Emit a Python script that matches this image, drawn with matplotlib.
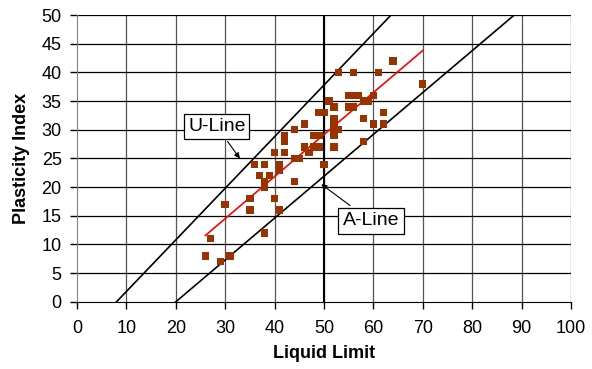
import numpy as np
import matplotlib.pyplot as plt

plt.rcParams['font.family'] = ['Liberation Sans', 'DejaVu Sans']

# datos
liquid_limit = [26, 27, 29, 31, 30, 35, 35, 38, 40, 41, 36, 38, 37, 39, 38, 38, 41, 41,
                44, 40, 42, 44, 45, 42, 42, 44, 46, 46, 47, 48, 49, 48, 49, 49, 50, 50,
                51, 52, 52, 52, 52, 52, 52, 53, 53, 56, 61, 64, 70, 55, 56, 57, 60, 55,
                56, 58, 59, 62, 58, 60, 62, 58]
plasticity_index = [8, 11, 7, 8, 17, 18, 16, 12, 18, 16, 24, 24, 22, 22, 21, 20, 24, 23,
                    21, 26, 26, 25, 25, 29, 28, 30, 31, 27, 26, 27, 27, 29, 29, 33, 33, 24,
                    35, 34, 32, 31, 30, 29, 27, 30, 40, 40, 40, 42, 38, 36, 36, 36, 36, 34,
                    34, 35, 35, 33, 32, 31, 31, 28]
x_ticks = [0, 10, 20, 30, 40, 50, 60, 70, 80, 90, 100]
y_ticks = [0, 5, 10, 15, 20, 25, 30, 35, 40, 45, 50]

fig = plt.figure(figsize=(5.92, 3.69), dpi=100)
ax = fig.add_axes([0.130, 0.182, 0.8345, 0.777])

# grade
for v in x_ticks[1:]:
    ax.axvline(v, color='#555555', lw=0.9, zorder=1)
for v in y_ticks[1:]:
    ax.axhline(v, color='black', lw=0.9, zorder=1)
ax.axvline(50, color='black', lw=1.5, zorder=2)

# linhas U e A
ll = np.array([0, 100])
ax.plot(ll, 0.9 * (ll - 8), color='black', lw=1.2, zorder=3)
ax.plot(ll, 0.73 * (ll - 20), color='black', lw=1.2, zorder=3)

# ajuste linear
coef = np.polyfit(liquid_limit, plasticity_index, 1)
fit_x = np.array([min(liquid_limit), max(liquid_limit)])
ax.plot(fit_x, np.polyval(coef, fit_x), color='red', lw=1.2, zorder=4)

ax.scatter(liquid_limit, plasticity_index, marker='s', s=28, color='#993300',
           edgecolors='none', zorder=5)

ax.annotate('U-Line', xy=(33.3, 24.6), xytext=(28.3, 30.6), fontsize=14,
            ha='center', va='center',
            bbox=dict(boxstyle='square,pad=0.2', fc='white', ec='black', lw=0.9),
            arrowprops=dict(arrowstyle='-|>', color='black', lw=0.8, mutation_scale=8),
            zorder=6)
ax.annotate('A-Line', xy=(49, 20.8), xytext=(59.5, 14.1), fontsize=14,
            ha='center', va='center',
            bbox=dict(boxstyle='square,pad=0.25', fc='white', ec='black', lw=0.9),
            arrowprops=dict(arrowstyle='-|>', color='black', lw=0.8, mutation_scale=8),
            zorder=6)

ax.set_xlim(0, 100)
ax.set_ylim(0, 50)
ax.set_xticks(x_ticks)
ax.set_yticks(y_ticks)
ax.tick_params(direction='out', length=5, width=1, labelsize=13, color='black')
ax.tick_params(axis='x', pad=8)
ax.tick_params(axis='y', pad=6)
ax.spines['top'].set_visible(False)
ax.spines['right'].set_visible(False)
ax.spines['left'].set_color('#808080')
ax.spines['bottom'].set_color('black')
ax.set_xlabel('Liquid Limit', fontsize=13, fontweight='bold', labelpad=6)
ax.set_ylabel('Plasticity Index', fontsize=13, fontweight='bold', labelpad=8)

plt.savefig('out.png', dpi=100)
